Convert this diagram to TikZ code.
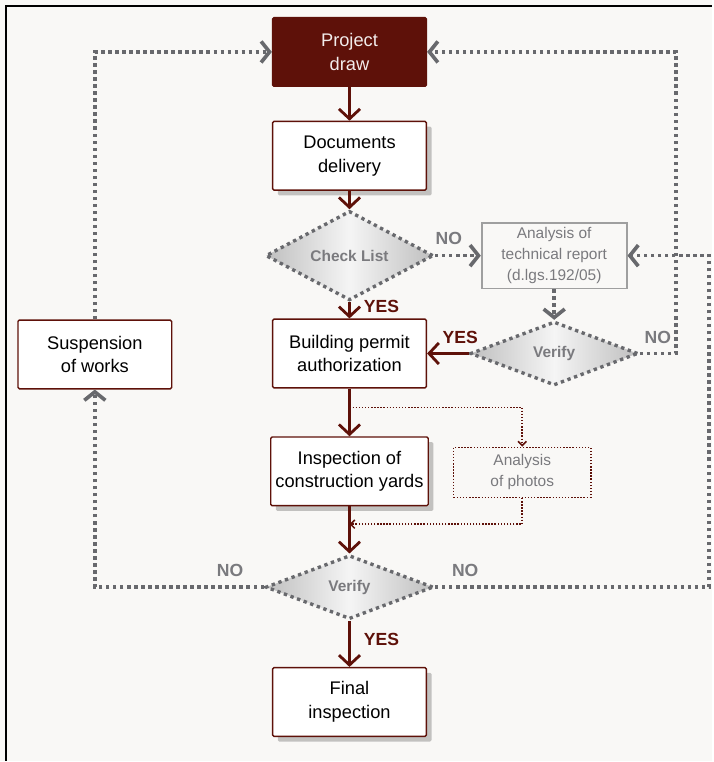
\documentclass[tikz,border=0pt]{standalone}
\usepackage{fontspec}
\setmainfont{Liberation Sans}
\usetikzlibrary{arrows.meta,shapes.geometric,shadows}
\definecolor{brick}{HTML}{5E1109}
\definecolor{dotgray}{HTML}{68696D}
\definecolor{paper}{HTML}{F9F8F6}
\definecolor{labelgray}{HTML}{7A7A7E}
\begin{document}
\begin{tikzpicture}[x = 0.025cm, y = -0.025cm,
    box/.style = {draw = brick, line width = 1pt, fill = white, minimum width = 3.85cm,
                  minimum height = 1.72cm, align = center, rounded corners = 1pt,
                  font = \fontsize{13}{17}\selectfont},
    shbox/.style = {box, drop shadow = {shadow xshift = 1.3mm, shadow yshift = -1.3mm,
                    fill = black, opacity = 0.22}},
    test/.style = {diamond, minimum width = 4.2cm, minimum height = 1.6cm, inner sep = 0pt,
                   draw = dotgray, line width = 2.4pt, dash pattern = on 2.4pt off 2.6pt,
                   left color = gray!50, right color = gray!50, middle color = gray!8,
                   text = labelgray, font = \bfseries\fontsize{11}{13}\selectfont},
    graybox/.style = {draw = gray!75, line width = 1.2pt, fill = paper, minimum width = 3.63cm,
                      minimum height = 1.6cm, align = center, text = labelgray,
                      font = \fontsize{11}{15}\selectfont},
    photobox/.style = {draw = brick, line width = 1.1pt, dash pattern = on 1pt off 1.2pt,
                       fill = paper, minimum width = 3.43cm, minimum height = 1.25cm,
                       align = center, text = labelgray, font = \fontsize{11}{15}\selectfont},
    redarrow/.style = {draw = brick, line width = 2pt, -{Straight Barb[length = 7pt, width = 15pt]}},
    grayarrow/.style = {draw = dotgray, line width = 2.6pt, dash pattern = on 2.4pt off 2.6pt,
                        -{Straight Barb[length = 6pt, width = 15pt]}},
    photoline/.style = {draw = brick, line width = 1.1pt, dash pattern = on 1pt off 1.2pt,
                        -{Straight Barb[length = 3pt, width = 6pt]}},
    yes/.style = {text = brick, font = \bfseries\fontsize{12.5}{14}\selectfont},
    no/.style = {text = labelgray, font = \bfseries\fontsize{12.5}{14}\selectfont}]
    \fill[paper] (0, 0) rectangle (713, 762);
    \draw[line width = 1.6pt] (6, 762) -- (6, 6) -- (713, 6);

    \node[box, fill = brick, text = white!92!brick] (proj) at (350, 52) {Project\\draw};
    \node[shbox] (docs) at (350, 156) {Documents\\delivery};
    \node[test] (check) at (350, 256) {Check List};
    \node[graybox] (tech) at (555, 256) {Analysis of\\technical report\\(d.lgs.192/05)};
    \node[test] (ver1) at (555, 354) {Verify};
    \node[box] (perm) at (350, 354) {Building permit\\authorization};
    \node[box] (susp) at (95, 355) {Suspension\\of works};
    \node[shbox] (insp) at (350, 472) {Inspection of\\construction yards};
    \node[photobox] (photo) at (523, 473) {Analysis\\of photos};
    \node[test] (ver2) at (350, 588) {Verify};
    \node[shbox] (final) at (350, 703) {Final\\inspection};
    \coordinate (tap) at (350, 408);
    \coordinate (join) at (350, 525);

    \draw[redarrow] (proj) -- (docs);
    \draw[redarrow] (docs) -- (check);
    \draw[redarrow] (check) -- node[right = 6pt, pos = 0.3, yes] {YES} (perm);
    \draw[grayarrow] (check.east) -- node[above = 3pt, pos = 0.3, no] {NO} (tech.west);
    \draw[grayarrow] (tech) -- (ver1);
    \draw[redarrow] (ver1.west) -- node[above = 3pt, pos = 0.2, yes] {YES} (perm.east);
    \draw[grayarrow] (ver1.east) -- node[above = 2pt, no] {NO} (677, 354) |- (proj.east);
    \draw[redarrow] (perm) -- (insp);
    \draw[photoline] (tap) -| (photo.north);
    \draw[photoline] (photo.south) |- (join);
    \draw[redarrow] (insp) -- (ver2);
    \draw[redarrow] (ver2) -- node[right = 6pt, pos = 0.4, yes] {YES} (final);
    \draw[grayarrow] (ver2.west) -| node[above = 3pt, pos = 0.1, no] {NO} (susp.south);
    \draw[grayarrow] (ver2.east) -- node[above = 3pt, pos = 0.11, no] {NO} (710, 588) |- (tech.east);
    \draw[grayarrow] (susp.north) |- (proj.west);
\end{tikzpicture}
\end{document}
